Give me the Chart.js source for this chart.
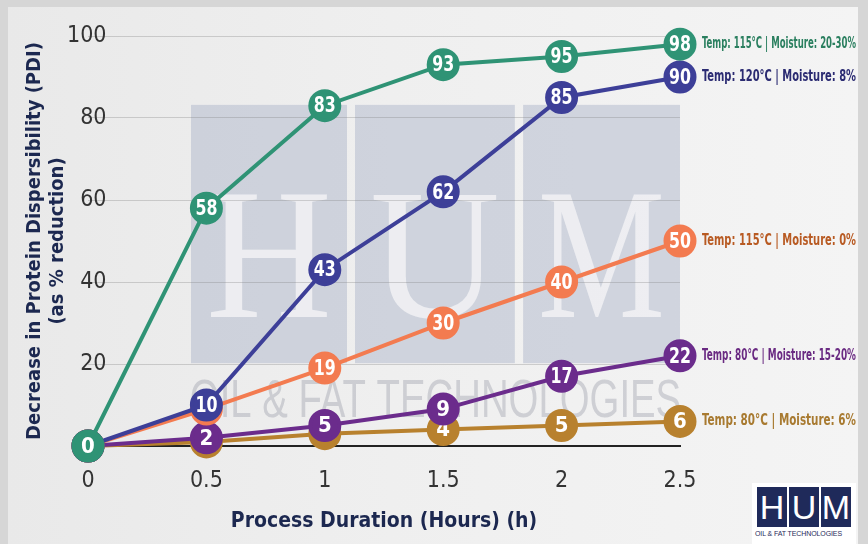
<!DOCTYPE html>
<html>
<head>
<meta charset="utf-8">
<script src="https://cdn.jsdelivr.net/npm/chart.js@4.4.1/dist/chart.umd.min.js"></script>
<style>
html, body { margin: 0; padding: 0; }
body {
    width: 868px; height: 544px; overflow: hidden; position: relative;
    background: #d6d6d6;
}
.panel {
    position: absolute; left: 8px; top: 7px; width: 850px; height: 537px;
    background: linear-gradient(90deg, #e9e9e9 0%, #efefef 45%, #f4f4f4 100%);
}
#wrap { position: absolute; left: 0; top: 0; width: 868px; height: 544px; }
.logo {
    position: absolute; left: 752px; top: 483px; width: 104px; height: 61px;
    background: #fff; font-family: "Liberation Sans", Arial, sans-serif;
}
.logo .boxes { position: absolute; left: 5px; top: 4px; display: flex; gap: 2px; }
.logo .boxes span {
    width: 30px; height: 40px; background: #1f2a5a; color: #fff;
    font-size: 34px; line-height: 40px; text-align: center; display: block;
}
.logo .sub {
    position: absolute; left: 3px; top: 47px; width: 100px; font-size: 7px;
    color: #1f2a5a; letter-spacing: -0.1px; white-space: nowrap;
}
</style>
</head>
<body>
<div class="panel"></div>
<div id="wrap"><canvas id="chart1" width="868" height="544"></canvas></div>
<div class="logo">
    <div class="boxes"><span>H</span><span>U</span><span>M</span></div>
    <div class="sub">OIL &amp; FAT TECHNOLOGIES</div>
</div>
<script>
// hours of processing
const hours = ['0', '0.5', '1', '1.5', '2', '2.5'];

// PDI reduction (%) per condition
const temp115Moist2030 = [0, 58, 83, 93, 95, 98];
const temp120Moist8 = [0, 10, 43, 62, 85, 90];
const temp115Moist0 = [0, 9, 19, 30, 40, 50];
const temp80Moist1520 = [0, 2, 5, 9, 17, 22];
const temp80Moist6 = [0, 1, 3, 4, 5, 6];

const seriesNames = [
    'Temp: 115°C | Moisture: 20-30%',
    'Temp: 120°C | Moisture: 8%',
    'Temp: 115°C | Moisture: 0%',
    'Temp: 80°C | Moisture: 15-20%',
    'Temp: 80°C | Moisture: 6%'
];
const yTicks = [0, 20, 40, 60, 80, 100];

const narrow = '"Liberation Sans Narrow", "DejaVu Sans Condensed", "Liberation Sans", sans-serif';
const lineColors = ['#2f9375', '#3d3f98', '#f37b50', '#6b2c8c', '#b8812e'];
const textColors = ['#2a7f5f', '#2b2b72', '#b85a22', '#6a2a82', '#a87a30'];

// watermark behind grid and lines
const watermark = {
    id: 'watermark',
    beforeDraw(chart) {
        const ctx = chart.ctx;
        const ca = chart.chartArea;
        const w = ca.right - ca.left;
        const h = ca.bottom - ca.top;
        const blocks = [[0.174, 0.4375], [0.451, 0.721], [0.735, 1.0]];
        const letters = ['H', 'U', 'M'];
        ctx.save();
        blocks.forEach((b, i) => {
            const x0 = ca.left + b[0] * w;
            const x1 = ca.left + b[1] * w;
            ctx.fillStyle = 'rgba(180, 188, 206, 0.55)';
            ctx.fillRect(x0, ca.top + 0.168 * h, x1 - x0, 0.63 * h);
            ctx.fillStyle = 'rgba(242, 242, 245, 0.85)';
            ctx.font = '186px "Liberation Serif", serif';
            ctx.textAlign = 'center';
            ctx.textBaseline = 'alphabetic';
            ctx.fillText(letters[i], (x0 + x1) / 2, ca.top + 0.686 * h, x1 - x0 - 30);
        });
        ctx.fillStyle = 'rgba(150, 152, 165, 0.38)';
        ctx.font = '54px "Liberation Sans", sans-serif';
        ctx.textAlign = 'left';
        ctx.textBaseline = 'middle';
        ctx.fillText('OIL & FAT TECHNOLOGIES', ca.left + 0.172 * w, ca.top + 0.893 * h, 0.83 * w);
        ctx.restore();
    }
};

// numbers inside the points and series names at the line ends
const pointLabels = {
    id: 'pointLabels',
    afterDatasetDraw(chart, args) {
        const ctx = chart.ctx;
        const ds = chart.data.datasets[args.index];
        const pts = args.meta.data;
        ctx.save();
        ctx.fillStyle = '#ffffff';
        ctx.font = 'bold 22px ' + narrow;
        ctx.textAlign = 'center';
        ctx.textBaseline = 'middle';
        pts.forEach((p, i) => {
            ctx.fillText(String(ds.data[i]), p.x, p.y + 1, 22);
        });
        const last = pts[pts.length - 1];
        ctx.fillStyle = textColors[args.index];
        ctx.font = 'bold 15px ' + narrow;
        ctx.textAlign = 'left';
        ctx.fillText(ds.label, last.x + 22, last.y, 154);
        ctx.restore();
    }
};

const allSeries = [temp115Moist2030, temp120Moist8, temp115Moist0, temp80Moist1520, temp80Moist6];

var ctx1 = document.getElementById('chart1').getContext('2d');
new Chart(ctx1, {
    type: 'line',
    data: {
        labels: hours,
        datasets: allSeries.map((vals, i) => ({
            label: seriesNames[i],
            data: vals,
            borderColor: lineColors[i],
            backgroundColor: lineColors[i],
            pointBackgroundColor: lineColors[i],
            pointBorderColor: lineColors[i],
            borderWidth: 4,
            pointRadius: 14.5,
            pointHoverRadius: 14.5,
            tension: 0,
            clip: false
        }))
    },
    options: {
        responsive: false,
        animation: false,
        events: [],
        layout: { padding: { top: 36, right: 188, left: 0, bottom: 0 } },
        plugins: {
            legend: { display: false },
            tooltip: { enabled: false }
        },
        scales: {
            x: {
                offset: false,
                grid: { display: false, drawTicks: false },
                border: { color: '#222', width: 2 },
                ticks: {
                    color: '#333',
                    font: { family: narrow, size: 23 },
                    padding: 21,
                    maxRotation: 0
                },
                title: {
                    display: true,
                    text: 'Process Duration (Hours) (h)',
                    color: '#1c2850',
                    font: { family: narrow, size: 21, weight: 'bold' },
                    padding: { top: 0, bottom: 10 }
                },
                afterFit(s) { s.height = 98; }
            },
            y: {
                min: 0,
                max: 100,
                afterBuildTicks(s) { s.ticks = yTicks.map(v => ({ value: v })); },
                grid: { color: 'rgba(120,120,120,0.3)', lineWidth: 1, drawTicks: false },
                border: { display: false },
                ticks: {
                    color: '#333',
                    font: { family: narrow, size: 23 },
                    mirror: true,
                    crossAlign: 'far',
                    padding: -21,
                    callback: v => (v === 0 ? '' : v)
                },
                title: {
                    display: true,
                    text: ['Decrease in Protein Dispersibility (PDI)', '(as % reduction)'],
                    color: '#1c2850',
                    font: { family: narrow, size: 20, weight: 'bold', lineHeight: 1.15 },
                    padding: { top: 23, bottom: 0 }
                },
                afterFit(s) { s.width = 88; }
            }
        }
    },
    plugins: [watermark, pointLabels]
});
</script>
</body>
</html>
